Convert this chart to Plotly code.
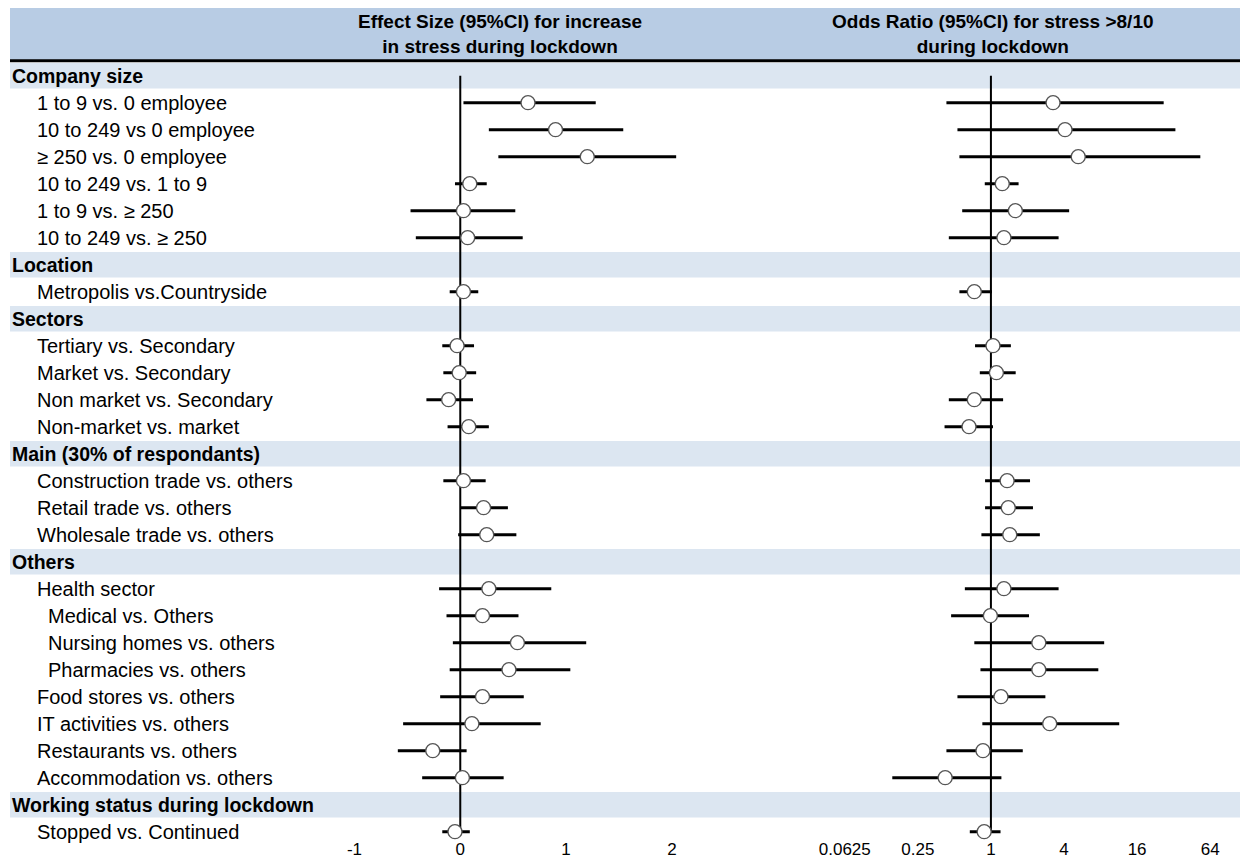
import math
import plotly.graph_objects as go

# ---------------- data ----------------
labels = [
    "Company size",
    "1 to 9 vs. 0 employee",
    "10 to 249 vs 0 employee",
    "\u2265 250 vs. 0 employee",
    "10 to 249 vs. 1 to 9",
    "1 to 9 vs. \u2265 250",
    "10 to 249 vs. \u2265 250",
    "Location",
    "Metropolis vs.Countryside",
    "Sectors",
    "Tertiary vs. Secondary",
    "Market vs. Secondary",
    "Non market vs. Secondary",
    "Non-market vs. market",
    "Main (30% of respondants)",
    "Construction trade vs. others",
    "Retail trade vs. others",
    "Wholesale trade vs. others",
    "Others",
    "Health sector",
    "Medical vs. Others",
    "Nursing homes vs. others",
    "Pharmacies vs. others",
    "Food stores vs. others",
    "IT activities vs. others",
    "Restaurants vs. others",
    "Accommodation vs. others",
    "Working status during lockdown",
    "Stopped vs. Continued",
]
# 0 = section header, 1 = item, 2 = sub-item
levels = [0, 1, 1, 1, 1, 1, 1, 0, 1, 0, 1, 1, 1, 1, 0, 1, 1, 1, 0, 1, 2, 2, 2, 1, 1, 1, 1, 0, 1]

# Effect size (95% CI) for increase in stress during lockdown
es_est = [None, 0.64, 0.90, 1.20, 0.09, 0.03, 0.07, None, 0.03, None, -0.03, -0.01, -0.11, 0.08,
          None, 0.03, 0.22, 0.25, None, 0.27, 0.21, 0.54, 0.46, 0.21, 0.11, -0.26, 0.02, None, -0.05]
es_lo = [None, 0.03, 0.27, 0.36, -0.05, -0.47, -0.42, None, -0.10, None, -0.17, -0.16, -0.32, -0.12,
         None, -0.16, 0.00, -0.02, None, -0.20, -0.13, -0.07, -0.10, -0.19, -0.54, -0.59, -0.36, None, -0.17]
es_hi = [None, 1.28, 1.54, 2.04, 0.25, 0.52, 0.59, None, 0.17, None, 0.13, 0.15, 0.12, 0.27,
         None, 0.24, 0.45, 0.53, None, 0.86, 0.55, 1.19, 1.04, 0.60, 0.76, 0.06, 0.41, None, 0.09]

# Odds ratio (95% CI) for stress > 8/10 during lockdown
or_est = [None, 3.25, 4.08, 5.24, 1.24, 1.59, 1.28, None, 0.73, None, 1.04, 1.11, 0.73, 0.66,
          None, 1.36, 1.39, 1.43, None, 1.28, 0.99, 2.48, 2.48, 1.21, 3.05, 0.86, 0.42, None, 0.88]
or_lo = [None, 0.43, 0.53, 0.55, 0.89, 0.58, 0.45, None, 0.55, None, 0.74, 0.81, 0.45, 0.415,
         None, 0.895, 0.895, 0.835, None, 0.61, 0.47, 0.73, 0.82, 0.53, 0.85, 0.43, 0.154, None, 0.67]
or_hi = [None, 26.5, 33.1, 53.1, 1.69, 4.41, 3.61, None, 1.02, None, 1.46, 1.60, 1.26, 1.04,
         None, 2.10, 2.22, 2.53, None, 3.61, 2.06, 8.57, 7.67, 2.81, 11.4, 1.83, 1.22, None, 1.20]

es_ticks = [-1, 0, 1, 2]
or_ticks = [0.0625, 0.25, 1, 4, 16, 64]
or_ticktext = ["0.0625", "0.25", "1", "4", "16", "64"]

title_es = "Effect Size (95%CI) for increase<br>in stress during lockdown"
title_or = "Odds Ratio (95%CI) for stress >8/10<br>during lockdown"

# ---------------- figure ----------------
# page body has an 8px margin, so the figure is drawn 8px in from the window corner
W, H = 1240, 856
FONT = "Liberation Sans, Arial, sans-serif"
HEADER_BLUE = "#B8CCE4"
BAND_BLUE = "#DCE6F1"

fig = go.Figure()

def segs(lo, hi):
    xs, ys = [], []
    for i, (a, b) in enumerate(zip(lo, hi)):
        if a is None:
            continue
        xs += [a, b, None]
        ys += [i, i, None]
    return xs, ys

def pts(est):
    xs, ys = [], []
    for i, v in enumerate(est):
        if v is None:
            continue
        xs.append(v)
        ys.append(i)
    return xs, ys

marker = dict(symbol="circle", size=14, color="white", line=dict(color="#555555", width=1.3))

for lo, hi, est, xa in [(es_lo, es_hi, es_est, "x"), (or_lo, or_hi, or_est, "x2")]:
    sx, sy = segs(lo, hi)
    fig.add_trace(go.Scatter(x=sx, y=sy, mode="lines", xaxis=xa, yaxis="y",
                             line=dict(color="black", width=3), hoverinfo="skip",
                             showlegend=False, cliponaxis=False))
    px_, py_ = pts(est)
    fig.add_trace(go.Scatter(x=px_, y=py_, mode="markers", xaxis=xa, yaxis="y",
                             marker=marker, showlegend=False, cliponaxis=False))

shapes = []
left_edge = 0
# header band and rules
shapes.append(dict(type="rect", xref="paper", yref="y", x0=left_edge, x1=1, y0=-2.51, y1=-0.58,
                   fillcolor=HEADER_BLUE, line=dict(width=0), layer="below"))
shapes.append(dict(type="line", xref="paper", yref="y", x0=left_edge, x1=1, y0=-2.56, y1=-2.56,
                   line=dict(color="black", width=3), layer="below"))
shapes.append(dict(type="line", xref="paper", yref="y", x0=left_edge, x1=1, y0=-0.55, y1=-0.55,
                   line=dict(color="black", width=3), layer="below"))
# section bands
for i, lv in enumerate(levels):
    if lv == 0:
        shapes.append(dict(type="rect", xref="paper", yref="y", x0=left_edge, x1=1,
                           y0=i - 0.47, y1=i + 0.47, fillcolor=BAND_BLUE,
                           line=dict(width=0), layer="below"))
# reference lines
shapes.append(dict(type="line", xref="x", yref="y", x0=0, x1=0, y0=0, y1=len(labels) - 1,
                   line=dict(color="black", width=2), layer="below"))
shapes.append(dict(type="line", xref="x2", yref="y", x0=1, x1=1, y0=0, y1=len(labels) - 1,
                   line=dict(color="black", width=2), layer="below"))

annotations = []
indent = {0: 0, 1: 25, 2: 36}
for i, (lab, lv) in enumerate(zip(labels, levels)):
    annotations.append(dict(
        text=("<b>%s</b>" % lab) if lv == 0 else lab,
        xref="paper", yref="y", x=indent[lv] / W, y=i, xanchor="left", yanchor="middle",
        showarrow=False, font=dict(family=FONT, size=20 if lv else 19.5, color="black")))

annotations.append(dict(text="<b>%s</b>" % title_es, xref="paper", yref="y", x=491 / W, y=-1.55,
                        xanchor="center", yanchor="middle", showarrow=False,
                        font=dict(family=FONT, size=19, color="black"), align="center"))
annotations.append(dict(text="<b>%s</b>" % title_or, xref="paper", yref="y", x=985 / W, y=-1.55,
                        xanchor="center", yanchor="middle", showarrow=False,
                        font=dict(family=FONT, size=19, color="black"), align="center"))

# axis geometry (figure pixels)
x1_px0, x1_px1 = 322, 692
x1_zero, x1_scale = 451, 106.0
x2_px0, x2_px1 = 812, 1232
x2_one, x2_scale = 982.5, 36.6  # px per log2 unit
plot_bottom = 829

def l2to10(v):
    return v * math.log10(2)

row0, pitch = 67.7, 27.0

fig.update_layout(
    width=W, height=H, margin=dict(l=0, r=0, t=0, b=0),
    paper_bgcolor="white", plot_bgcolor="rgba(0,0,0,0)",
    font=dict(family=FONT, color="black"),
    xaxis=dict(domain=[x1_px0 / W, x1_px1 / W],
               range=[(x1_px0 - x1_zero) / x1_scale, (x1_px1 - x1_zero) / x1_scale],
               tickvals=es_ticks, ticktext=[str(t) for t in es_ticks],
               showgrid=False, zeroline=False, showline=False, ticks="",
               tickfont=dict(family=FONT, size=17, color="black"), anchor="y"),
    xaxis2=dict(type="log", domain=[x2_px0 / W, x2_px1 / W],
                range=[l2to10((x2_px0 - x2_one) / x2_scale), l2to10((x2_px1 - x2_one) / x2_scale)],
                tickvals=or_ticks, ticktext=or_ticktext,
                showgrid=False, zeroline=False, showline=False, ticks="",
                tickfont=dict(family=FONT, size=17, color="black"), anchor="y"),
    yaxis=dict(domain=[(H - plot_bottom) / H, 1],
               range=[(plot_bottom - row0) / pitch, -row0 / pitch], visible=False,
               showgrid=False, zeroline=False),
    shapes=shapes, annotations=annotations,
)

fig.write_html("out.html")
